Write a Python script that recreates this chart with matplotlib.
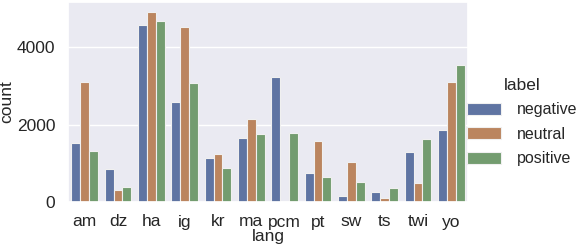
import matplotlib
matplotlib.use("Agg")
import matplotlib.pyplot as plt
import seaborn as sns
import pandas as pd

langs = ["am", "dz", "ha", "ig", "kr", "ma", "pcm", "pt", "sw", "ts", "twi", "yo"]
labels = ["negative", "neutral", "positive"]
negative = [1530, 855, 4580, 2590, 1130, 1660, 3230, 750, 160, 250, 1300, 1870]
neutral = [3110, 310, 4920, 4520, 1240, 2150, 25, 1570, 1040, 110, 490, 3110]
positive = [1310, 390, 4690, 3080, 870, 1750, 1790, 650, 520, 350, 1630, 3530]

rows = []
for lab, vals in zip(labels, [negative, neutral, positive]):
    for lg, v in zip(langs, vals):
        rows.append({"lang": lg, "label": lab, "count": v})
df = pd.DataFrame(rows)

sns.set_theme(style="darkgrid")
plt.rcParams["font.family"] = ["Liberation Sans", "DejaVu Sans"]

# muted look of the original bars
colors = ["#5f74a2", "#bb855f", "#739c6f"]

fig = plt.figure(figsize=(5.84, 2.46), dpi=100)
ax = fig.add_axes([68 / 584, 44 / 246, 400 / 584, 200 / 246])
sns.barplot(data=df, x="lang", y="count", hue="label", order=langs,
            hue_order=labels, palette=colors, saturation=1,
            edgecolor="#f0f0f0", linewidth=0.8, ax=ax)
ax.set_ylim(0, 5170)
ax.set_yticks([0, 2000, 4000])
ax.tick_params(labelsize=12.5, pad=3)
ax.set_xlabel("lang", fontsize=12.5, labelpad=0)
ax.set_ylabel("count", fontsize=12.5, labelpad=2)
ax.legend_.remove()
h, l = ax.get_legend_handles_labels()
leg = fig.legend(h, l, title="label", loc="center left",
                 bbox_to_anchor=(453 / 584, 124 / 246), frameon=False,
                 fontsize=11.5, title_fontsize=12.5, handlelength=2.1,
                 handleheight=0.8, handletextpad=1.0, labelspacing=0.6)
fig.savefig("out.png", dpi=100)
